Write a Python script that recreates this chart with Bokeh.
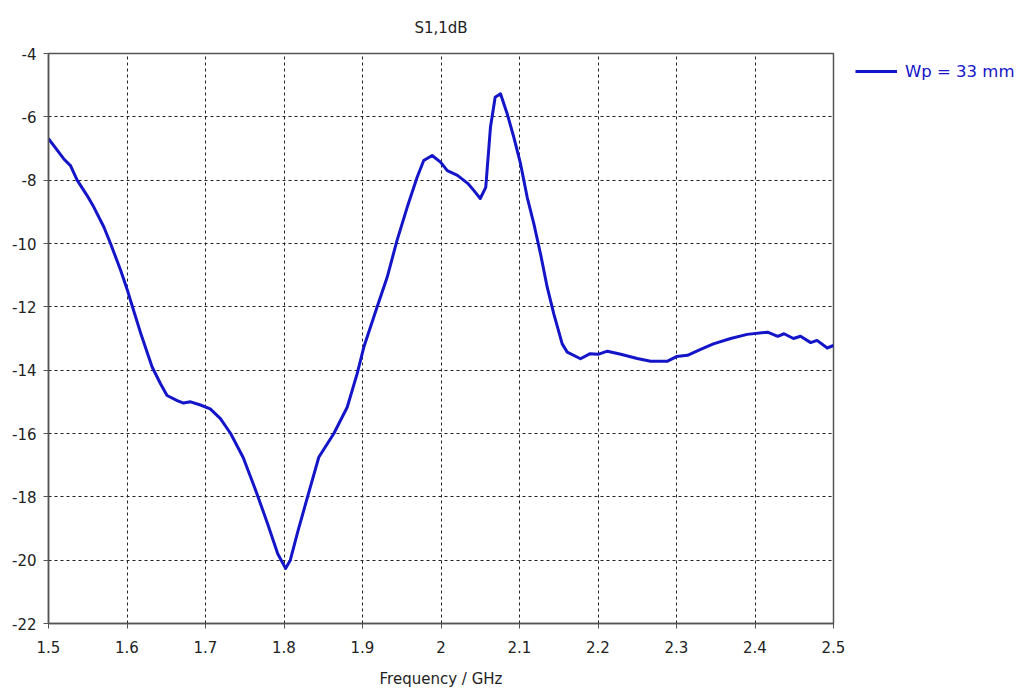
from bokeh.plotting import figure
from bokeh.models import Legend, LegendItem, FixedTicker, Range1d, PrintfTickFormatter
from bokeh.embed import file_html
from bokeh.resources import INLINE

title_text = "S1,1dB"
x_label = "Frequency / GHz"
series_name = "Wp = 33 mm"

freq = [1.5, 1.5195, 1.528, 1.5365, 1.549, 1.5577, 1.5705, 1.579, 1.592, 1.6002,
        1.6045, 1.617, 1.632, 1.6427, 1.651, 1.664, 1.672, 1.681, 1.6936, 1.706,
        1.719, 1.732, 1.748, 1.764, 1.779, 1.792, 1.802, 1.808,
        1.818, 1.83, 1.8443, 1.8635, 1.8805, 1.8932, 1.9017, 1.9187, 1.9315, 1.944,
        1.957, 1.9697, 1.978, 1.9887, 1.9994, 2.008, 2.021, 2.034, 2.042, 2.05, 2.057,
        2.063, 2.069, 2.0758, 2.0843, 2.0927, 2.1013, 2.1098, 2.1183, 2.1268, 2.1353,
        2.1437, 2.1544, 2.1608, 2.1777, 2.19, 2.2, 2.212, 2.229, 2.25, 2.267, 2.288, 2.3,
        2.314, 2.33, 2.347, 2.369, 2.39, 2.416, 2.429, 2.437, 2.449, 2.458,
        2.471, 2.479, 2.492, 2.5]
s11 = [-6.69, -7.33, -7.54, -8.0, -8.48, -8.85, -9.48, -10.0, -10.85, -11.45,
       -11.8, -12.8, -13.9, -14.43, -14.8, -14.96, -15.04, -15.0, -15.1, -15.22,
       -15.53, -16.0, -16.76, -17.8, -18.84, -19.8, -20.26, -20.0,
       -19.06, -18.0, -16.75, -16.0, -15.17, -14.11, -13.27, -12.0, -11.06, -9.9,
       -8.85, -7.9, -7.38, -7.22, -7.43, -7.7, -7.85, -8.1, -8.33, -8.58, -8.23,
       -6.33, -5.38, -5.27, -5.9, -6.64, -7.48, -8.54, -9.38, -10.33, -11.38,
       -12.22, -13.17, -13.43, -13.64, -13.48, -13.5, -13.4, -13.5, -13.63, -13.72, -13.72, -13.57,
       -13.53, -13.35, -13.17, -13.0, -12.87, -12.8, -12.93, -12.85, -13.0, -12.93,
       -13.13, -13.06, -13.3, -13.22]
x_ticks = [1.5, 1.6, 1.7, 1.8, 1.9, 2.0, 2.1, 2.2, 2.3, 2.4, 2.5]
y_ticks = [-22, -20, -18, -16, -14, -12, -10, -8, -6, -4]

FONT = "DejaVu Sans"
axis_col = "#555555"
text_col = "#222222"

p = figure(frame_width=785, frame_height=570, output_backend="svg", toolbar_location=None,
           x_range=Range1d(1.5, 2.5), y_range=Range1d(-22, -4),
           min_border_left=48, min_border_right=5, min_border_top=53, min_border_bottom=50)

p.title.text = title_text
p.title.align = "center"
p.title.vertical_align = "top"
p.title.text_font = FONT
p.title.text_font_size = "15px"
p.title.text_font_style = "normal"
p.title.text_color = text_col
p.title.standoff = 30

for ax in (p.xaxis[0], p.yaxis[0]):
    ax.axis_line_color = axis_col
    ax.axis_line_width = 1.5
    ax.major_tick_line_color = axis_col
    ax.major_tick_in = 0
    ax.major_tick_out = 5
    ax.minor_tick_line_color = None
    ax.major_label_text_font = FONT
    ax.major_label_text_font_size = "15px"
    ax.major_label_text_color = text_col

p.xaxis[0].ticker = FixedTicker(ticks=x_ticks)
p.yaxis[0].ticker = FixedTicker(ticks=y_ticks)
p.yaxis[0].formatter = PrintfTickFormatter(format="%d")
p.xaxis[0].major_label_standoff = 12
p.yaxis[0].major_label_standoff = 7
p.xaxis[0].axis_label = x_label
p.xaxis[0].axis_label_text_font = FONT
p.xaxis[0].axis_label_text_font_size = "15px"
p.xaxis[0].axis_label_text_font_style = "normal"
p.xaxis[0].axis_label_text_color = text_col
p.xaxis[0].axis_label_standoff = 14

for g in (p.xgrid[0], p.ygrid[0]):
    g.grid_line_color = "#222222"
    g.grid_line_dash = "3 3"
    g.grid_line_width = 1

p.outline_line_color = axis_col
p.outline_line_width = 1.5
p.background_fill_color = "white"

r = p.line(freq, s11, line_color="#1414C8", line_width=3, line_join="round")

legend = Legend(items=[LegendItem(label=series_name, renderers=[r])],
                location=(22, 542), glyph_width=42, glyph_height=20, label_standoff=8,
                label_text_font=FONT, label_text_font_size="16.5px",
                label_text_color="#1414C8", border_line_color=None,
                background_fill_alpha=0, margin=0, padding=0)
p.add_layout(legend, "right")

open("out.html", "w").write(file_html(p, INLINE))
